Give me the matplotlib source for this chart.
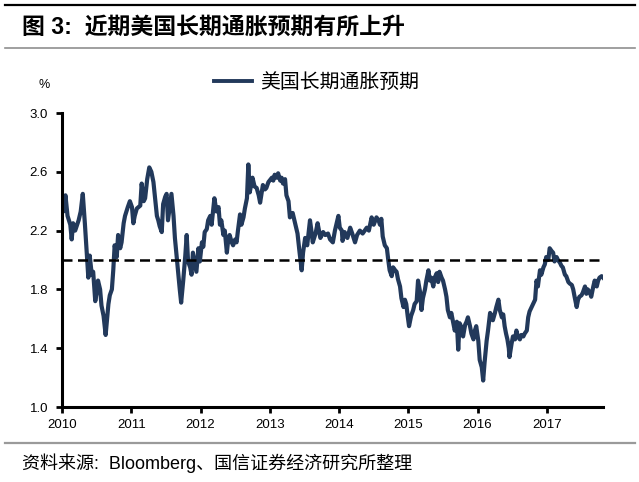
import matplotlib
matplotlib.use("Agg")
import matplotlib.pyplot as plt
from matplotlib.lines import Line2D

plt.rcParams['font.family'] = ['Liberation Sans', 'Noto Sans CJK SC', 'DejaVu Sans']

# ---- data (decimal year, %) ----
years = [
    2010.00, 2010.02, 2010.05, 2010.08, 2010.12, 2010.14, 2010.16, 2010.19, 2010.24, 2010.27,
    2010.30, 2010.33, 2010.36, 2010.38, 2010.40, 2010.43, 2010.45, 2010.48, 2010.50, 2010.52,
    2010.55, 2010.57, 2010.60, 2010.63, 2010.67, 2010.69, 2010.72, 2010.74, 2010.76, 2010.79,
    2010.81, 2010.84, 2010.86, 2010.89, 2010.91, 2010.95, 2010.98, 2011.01, 2011.03, 2011.05,
    2011.08, 2011.13, 2011.15, 2011.18, 2011.20, 2011.23, 2011.26, 2011.29, 2011.32, 2011.34,
    2011.37, 2011.39, 2011.41, 2011.44, 2011.46, 2011.49, 2011.51, 2011.53, 2011.56, 2011.58,
    2011.61, 2011.63, 2011.66, 2011.68, 2011.70, 2011.72, 2011.75, 2011.78, 2011.80, 2011.82,
    2011.85, 2011.87, 2011.89, 2011.92, 2011.94, 2011.97, 2011.99, 2012.02, 2012.04, 2012.06,
    2012.09, 2012.11, 2012.14, 2012.16, 2012.20, 2012.23, 2012.26, 2012.28, 2012.30, 2012.33,
    2012.35, 2012.38, 2012.40, 2012.42, 2012.45, 2012.47, 2012.50, 2012.52, 2012.54, 2012.57,
    2012.59, 2012.62, 2012.64, 2012.67, 2012.69, 2012.71, 2012.75, 2012.78, 2012.81, 2012.84,
    2012.86, 2012.88, 2012.90, 2012.93, 2012.95, 2012.98, 2013.03, 2013.05, 2013.07, 2013.10,
    2013.12, 2013.15, 2013.17, 2013.19, 2013.22, 2013.24, 2013.27, 2013.29, 2013.33, 2013.36,
    2013.40, 2013.43, 2013.46, 2013.48, 2013.51, 2013.54, 2013.58, 2013.60, 2013.62, 2013.66,
    2013.69, 2013.73, 2013.77, 2013.80, 2013.84, 2013.87, 2013.91, 2013.94, 2013.96, 2013.99,
    2014.01, 2014.04, 2014.05, 2014.08, 2014.12, 2014.16, 2014.19, 2014.23, 2014.26, 2014.30,
    2014.34, 2014.40, 2014.43, 2014.47, 2014.50, 2014.54, 2014.57, 2014.59, 2014.61, 2014.63,
    2014.66, 2014.69, 2014.71, 2014.73, 2014.76, 2014.78, 2014.81, 2014.83, 2014.85, 2014.88,
    2014.90, 2014.93, 2014.95, 2014.97, 2014.99, 2015.01, 2015.04, 2015.07, 2015.09, 2015.12,
    2015.14, 2015.17, 2015.19, 2015.21, 2015.24, 2015.26, 2015.29, 2015.31, 2015.33, 2015.36,
    2015.38, 2015.41, 2015.43, 2015.45, 2015.48, 2015.50, 2015.53, 2015.55, 2015.57, 2015.60,
    2015.62, 2015.65, 2015.67, 2015.70, 2015.72, 2015.74, 2015.77, 2015.79, 2015.82, 2015.84,
    2015.86, 2015.89, 2015.91, 2015.94, 2015.96, 2015.98, 2016.01, 2016.03, 2016.06, 2016.08,
    2016.10, 2016.13, 2016.15, 2016.18, 2016.20, 2016.22, 2016.25, 2016.27, 2016.30, 2016.32,
    2016.35, 2016.37, 2016.39, 2016.41, 2016.43, 2016.45, 2016.46, 2016.49, 2016.51, 2016.54,
    2016.56, 2016.58, 2016.61, 2016.63, 2016.66, 2016.68, 2016.71, 2016.73, 2016.75, 2016.78,
    2016.80, 2016.83, 2016.85, 2016.87, 2016.90, 2016.92, 2016.95, 2016.97, 2016.99, 2017.02,
    2017.04, 2017.07, 2017.09, 2017.11, 2017.14, 2017.16, 2017.19, 2017.21, 2017.23, 2017.26,
    2017.28, 2017.31, 2017.33, 2017.36, 2017.38, 2017.40, 2017.43, 2017.45, 2017.47, 2017.50,
    2017.52, 2017.55, 2017.57, 2017.59, 2017.62, 2017.64, 2017.67, 2017.69, 2017.72, 2017.74,
    2017.76, 2017.79, 2017.81,
]
inflation_exp = [
    2.41, 2.33, 2.44, 2.30, 2.24, 2.14, 2.25, 2.20, 2.27, 2.33,
    2.45, 2.25, 2.03, 1.88, 2.03, 1.90, 1.92, 1.72, 1.78, 1.86,
    1.80, 1.69, 1.62, 1.49, 1.70, 1.76, 1.80, 1.93, 2.10, 2.02,
    2.17, 2.08, 2.12, 2.25, 2.30, 2.36, 2.40, 2.36, 2.25, 2.30,
    2.35, 2.37, 2.52, 2.40, 2.42, 2.55, 2.63, 2.60, 2.53, 2.44,
    2.30, 2.27, 2.23, 2.19, 2.38, 2.43, 2.45, 2.27, 2.38, 2.45,
    2.30, 2.15, 2.00, 1.90, 1.80, 1.71, 1.86, 2.03, 2.17, 1.99,
    1.95, 1.90, 2.05, 1.97, 1.92, 2.08, 1.99, 2.12, 2.09, 2.19,
    2.21, 2.27, 2.30, 2.24, 2.42, 2.33, 2.36, 2.24, 2.27, 2.17,
    2.20, 2.05, 2.14, 2.17, 2.12, 2.10, 2.14, 2.12, 2.20, 2.31,
    2.24, 2.29, 2.35, 2.42, 2.65, 2.46, 2.56, 2.50, 2.49, 2.44,
    2.39, 2.45, 2.51, 2.48, 2.49, 2.53, 2.56, 2.54, 2.58, 2.56,
    2.59, 2.54, 2.56, 2.52, 2.55, 2.44, 2.40, 2.29, 2.32, 2.26,
    2.18, 2.05, 1.93, 2.05, 2.15, 2.10, 2.27, 2.20, 2.12, 2.18,
    2.25, 2.15, 2.19, 2.17, 2.18, 2.14, 2.12, 2.20, 2.24, 2.30,
    2.22, 2.20, 2.13, 2.19, 2.15, 2.22, 2.18, 2.12, 2.17, 2.20,
    2.18, 2.22, 2.20, 2.29, 2.24, 2.29, 2.27, 2.24, 2.28, 2.16,
    2.10, 2.08, 2.00, 1.93, 1.89, 1.95, 1.93, 1.92, 1.87, 1.82,
    1.74, 1.68, 1.73, 1.70, 1.62, 1.55, 1.62, 1.66, 1.70, 1.72,
    1.86, 1.78, 1.66, 1.74, 1.80, 1.86, 1.93, 1.86, 1.88, 1.82,
    1.88, 1.91, 1.85, 1.92, 1.88, 1.86, 1.80, 1.75, 1.66, 1.61,
    1.64, 1.57, 1.52, 1.58, 1.39, 1.57, 1.54, 1.48, 1.56, 1.58,
    1.61, 1.55, 1.50, 1.46, 1.52, 1.55, 1.45, 1.32, 1.27, 1.18,
    1.30, 1.45, 1.52, 1.64, 1.62, 1.59, 1.64, 1.68, 1.73, 1.66,
    1.61, 1.63, 1.55, 1.50, 1.46, 1.40, 1.34, 1.43, 1.48, 1.46,
    1.52, 1.48, 1.46, 1.49, 1.48, 1.50, 1.52, 1.61, 1.65, 1.68,
    1.70, 1.73, 1.86, 1.82, 1.93, 1.90, 1.95, 1.97, 2.02, 2.00,
    2.08, 2.06, 2.05, 1.99, 2.02, 2.00, 1.98, 1.96, 1.95, 1.90,
    1.89, 1.85, 1.84, 1.83, 1.80, 1.75, 1.68, 1.73, 1.75, 1.76,
    1.78, 1.82, 1.77, 1.80, 1.78, 1.75, 1.82, 1.86, 1.82, 1.86,
    1.88, 1.89, 1.88,
]
reference_level = 2.0
series_label = "美国长期通胀预期"
x_ticks = [2010, 2011, 2012, 2013, 2014, 2015, 2016, 2017]
x_tick_labels = ["2010", "2011", "2012", "2013", "2014", "2015", "2016", "2017"]
y_ticks = [1.0, 1.4, 1.8, 2.2, 2.6, 3.0]
y_tick_labels = ["1.0", "1.4", "1.8", "2.2", "2.6", "3.0"]
title_text = "图 3:  近期美国长期通胀预期有所上升"
source_text = "资料来源:  Bloomberg、国信证券经济研究所整理"

W, H = 639, 482
fig = plt.figure(figsize=(W / 100, H / 100), dpi=100)

ax = fig.add_axes([62 / W, 1 - 407 / H, (603 - 62) / W, (407 - 113) / H])
line_color = "#22395B"
ax.plot(years, inflation_exp, color=line_color, lw=3.0, solid_joinstyle="round")
ax.axhline(reference_level, color="black", lw=1.8, linestyle=(0, (4, 2.2)))

ax.set_xlim(2010, 2017.81)
ax.set_ylim(1.0, 3.0)
ax.set_xticks(x_ticks)
ax.set_xticklabels(x_tick_labels)
ax.set_yticks(y_ticks)
ax.set_yticklabels(y_tick_labels)
for s in ["top", "right"]:
    ax.spines[s].set_visible(False)
for s in ["left", "bottom"]:
    ax.spines[s].set_linewidth(2.2)
    ax.spines[s].set_color("black")
ax.tick_params(axis="both", direction="out", length=4, width=2, labelsize=9.5,
               colors="black", pad=5)
ax.tick_params(axis="y", pad=6)

# legend
handle = Line2D([], [], color=line_color, lw=2.8)
fig.legend([handle], [series_label], loc="center left",
           bbox_to_anchor=(214 / W, 1 - 82 / H), frameon=False,
           handlelength=1.9, handletextpad=0.4, borderpad=0, borderaxespad=0,
           prop={"family": ["Noto Sans CJK SC"], "size": 14.3})

# "%" unit label
fig.text(44 / W, 1 - 85 / H, "%", ha="center", va="center", fontsize=9)

# header / footer rules
fig.add_artist(Line2D([5 / W, 635 / W], [1 - 5 / H, 1 - 5 / H], color="black", lw=1.6))
fig.add_artist(Line2D([5 / W, 635 / W], [1 - 48 / H, 1 - 48 / H], color="#8f8f8f", lw=1.2))
fig.add_artist(Line2D([5 / W, 635 / W], [1 - 443 / H, 1 - 443 / H], color="#9a9a9a", lw=1.6))

fig.text(22 / W, 1 - 27 / H, title_text, ha="left", va="center", fontsize=16.5,
         fontweight="bold", family=["Liberation Sans", "Noto Sans CJK SC"])
fig.text(22 / W, 1 - 463 / H, source_text, ha="left", va="center", fontsize=13,
         family=["Liberation Sans", "Noto Sans CJK SC"])

fig.savefig("out.png", dpi=100)
